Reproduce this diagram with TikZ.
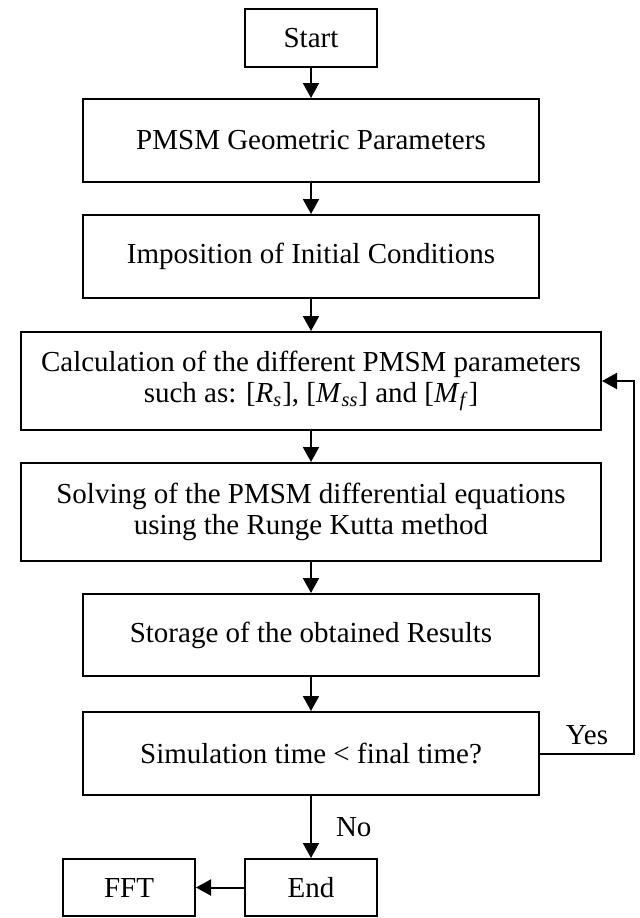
\documentclass[tikz,border=0pt]{standalone}
\usepackage{fontspec}
\setmainfont{Liberation Serif}
\usetikzlibrary{arrows.meta,calc}
\newcommand\sbi[2]{\textit{#1}\textsubscript{\textit{#2}}}
\tikzset{
  box/.style={draw=black, line width=1pt, fill=white, align=center, inner sep=0pt,
    font=\fontsize{14.5pt}{15.5pt}\selectfont},
  lbl/.style={inner sep=0pt, font=\fontsize{14.5pt}{15.5pt}\selectfont},
  arr/.style={draw=black, line width=1pt, -{Triangle[length=7.5pt,width=8pt]}},
}
\begin{document}
\begin{tikzpicture}[x=0.5pt,y=-0.5pt]
\useasboundingbox (0,0) rectangle (640,918);
\node[box, minimum width=66pt, minimum height=29pt] (start) at (311,38) {Start};
\node[box, minimum width=228pt, minimum height=41.5pt] (geo) at (311,140.5) {PMSM Geometric Parameters};
\node[box, minimum width=228pt, minimum height=41.5pt] (init) at (311,256.5) {Imposition of Initial Conditions};
\node[box, minimum width=290pt, minimum height=49pt] (calc) at (311,381) {Calculation of the different PMSM parameters\\ such as: [\sbi{R}{s}], [\sbi{M}{ss}] and [\sbi{M}{f}]};
\node[box, minimum width=290pt, minimum height=49pt] (solve) at (311,512) {Solving of the PMSM differential equations\\ using the Runge Kutta method};
\node[box, minimum width=228pt, minimum height=41pt] (store) at (311,635) {Storage of the obtained Results};
\node[box, minimum width=228pt, minimum height=41.5pt] (sim) at (311,753.5) {Simulation time < final time?};
\node[box, minimum width=66pt, minimum height=28.5pt] (end) at (311,887.5) {End};
\node[box, minimum width=66pt, minimum height=28.5pt] (fft) at (129,887.5) {FFT};
\coordinate (loopx) at (634,0);
\draw[arr] (start) -- (geo);
\draw[arr] (geo) -- (init);
\draw[arr] (init) -- (calc);
\draw[arr] (calc) -- (solve);
\draw[arr] (solve) -- (store);
\draw[arr] (store) -- (sim);
\draw[arr] (sim) -- node[lbl, midway, anchor=west, xshift=12pt] {No} (end);
\draw[arr] (end) -- (fft);
\draw[arr] (sim.east) -- node[lbl, midway, anchor=south, yshift=4pt] {Yes} (sim.east -| loopx) |- (calc.east);
\end{tikzpicture}
\end{document}
